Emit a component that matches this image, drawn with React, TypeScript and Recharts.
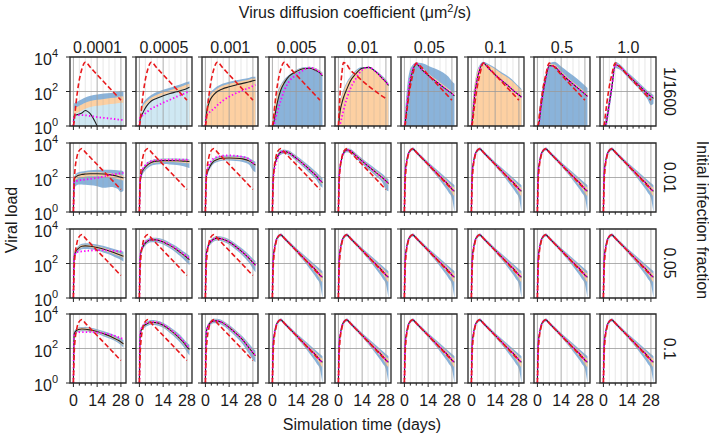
import React from 'react';
import { ComposedChart, Area, Line, XAxis, YAxis, ReferenceLine, ReferenceArea } from 'recharts';

// ---------- axes / labels ----------
const T = [0, 0.5, 1, 2, 3, 5, 7, 10, 14, 18, 22, 26, 28, 29.5];
const X_TICKS = [0, 3.5, 7, 10.5, 14, 17.5, 21, 24.5, 28];
const X_MAJOR = [0, 14, 28];
const Y_TICKS = [0, 2, 4];
const COL_LABELS = ['0.0001', '0.0005', '0.001', '0.005', '0.01', '0.05', '0.1', '0.5', '1.0'];
const ROW_LABELS = ['1/1600', '0.01', '0.05', '0.1'];

// ---------- values are log10(viral load) ----------
const ZERO = [0, 0, 0, 0, 0, 0, 0, 0, 0, 0, 0, 0, 0, 0];

const RED_R1 = [0, 0.3, 0.8, 1.7, 2.4, 3.3, 3.7, 3.4, 2.97, 2.55, 2.13, 1.71, 1.5, null];
const RED_R1C5 = [0, 1.0, 1.9, 3.0, 3.68, 3.55, 3.25, 2.98, 2.62, 2.3, 2.0, 1.72, 1.6, null];
const RED_R1B = [0, 0.1, 0.5, 1.3, 2.0, 3.0, 3.65, 3.42, 2.97, 2.55, 2.13, 1.71, 1.5, null];
const RED_LATE = [0, 1.8, 2.5, 3.15, 3.5, 3.68, 3.47, 3.16, 2.75, 2.34, 1.93, 1.51, 1.3, null];

// row 1 (1/1600)
const R1C1_MEAN = [0, 0.6, 0.62, 0.65, 0.68, 0.75, 0.9, 0.7, 0, null, null, null, null, null];
const R1C1_MAG = [0, 0.6, 0.62, 0.63, 0.63, 0.63, 0.62, 0.58, 0.52, 0.47, 0.43, 0.38, 0.36, 0.35];
const R1C1_BHI = [0, 1.3, 1.35, 1.4, 1.45, 1.55, 1.65, 1.75, 1.83, 1.88, 1.92, 1.98, 2.05, 2.0];
const R1C1_PHI = [0, 1.0, 1.05, 1.1, 1.15, 1.25, 1.35, 1.45, 1.52, 1.57, 1.62, 1.67, 1.72, 1.7];
const R1C1_LIGHT = [0, 0.7, 0.72, 0.75, 0.8, 0.9, 1.0, 1.1, 1.17, 1.22, 1.27, 1.32, 1.35, 1.35];

const R1C2_MEAN = [0, 0.4, 0.55, 0.75, 0.95, 1.25, 1.45, 1.6, 1.75, 1.88, 1.98, 2.1, 2.18, 2.25];
const R1C2_MAG = [0, 0.5, 0.55, 0.62, 0.7, 0.85, 1.0, 1.15, 1.35, 1.52, 1.7, 1.86, 1.95, 2.02];
const R1C2_BHI = [0, 0.7, 1.0, 1.3, 1.45, 1.65, 1.8, 1.95, 2.1, 2.22, 2.35, 2.48, 2.55, 2.6];
const R1C2_PHI = [0, 0.6, 0.85, 1.15, 1.3, 1.5, 1.65, 1.8, 1.95, 2.07, 2.2, 2.33, 2.4, 2.45];
const R1C2_LIGHT = [0, 0.5, 0.7, 0.95, 1.15, 1.35, 1.5, 1.65, 1.8, 1.93, 2.03, 2.15, 2.23, 2.3];

const R1C3_MEAN = [0, 0.6, 0.95, 1.3, 1.55, 1.82, 2.0, 2.15, 2.27, 2.38, 2.47, 2.56, 2.62, 2.65];
const R1C3_MAG = [0, 0.55, 0.65, 0.75, 0.85, 1.0, 1.2, 1.45, 1.7, 1.9, 2.07, 2.22, 2.32, 2.38];
const R1C3_BHI = [0, 1.0, 1.4, 1.75, 1.95, 2.15, 2.3, 2.45, 2.57, 2.65, 2.73, 2.8, 2.85, 2.85];
const R1C3_PHI = [0, 0.9, 1.25, 1.6, 1.82, 2.03, 2.18, 2.33, 2.45, 2.54, 2.62, 2.7, 2.75, 2.75];

const R1C4_MEAN = [0, 0.1, 0.3, 0.9, 1.4, 2.1, 2.5, 2.9, 3.15, 3.32, 3.35, 3.2, 3.08, 2.9];
const R1C4_MAG = [0, 0, 0.1, 0.5, 0.85, 1.5, 2.05, 2.6, 2.95, 3.22, 3.38, 3.25, 3.1, 2.9];
const R1C4_BHI = [0, 0.5, 1.0, 1.6, 1.95, 2.4, 2.7, 2.97, 3.25, 3.4, 3.43, 3.34, 3.22, 3.1];
const R1C4_PLO = [0, 0, 0.25, 0.85, 1.35, 2.05, 2.45, 2.85, 3.1, 3.27, 3.3, 3.17, 3.05, 2.85];
const R1C4_PHI = [0, 0.4, 0.9, 1.5, 1.85, 2.32, 2.63, 2.92, 3.2, 3.36, 3.39, 3.3, 3.18, 3.05];

const R1C5_MEAN = [0, 0.4, 0.85, 1.3, 1.65, 2.15, 2.6, 3.0, 3.35, 3.4, 3.15, 2.75, 2.55, 2.35];
const R1C5_MAG = [0, 0, 0.1, 0.5, 0.9, 1.6, 2.15, 2.7, 3.25, 3.4, 3.15, 2.75, 2.55, 2.35];
const R1C5_BHI = [0, 1.0, 1.45, 1.8, 2.1, 2.55, 2.85, 3.2, 3.42, 3.42, 3.22, 2.9, 2.7, 2.5];
const R1C5_PHI = [0, 0.92, 1.37, 1.72, 2.02, 2.47, 2.77, 3.12, 3.34, 3.34, 3.14, 2.82, 2.62, 2.42];

const R1C6_MEAN = [0, 0.2, 0.65, 1.55, 2.35, 3.25, 3.6, 3.3, 2.94, 2.63, 2.32, 2.02, 1.88, 1.75];
const R1C6_MAG = [0, 0.3, 0.8, 1.75, 2.5, 3.3, 3.62, 3.3, 2.94, 2.63, 2.32, 2.02, 1.88, 1.75];
const R1C6_BHI = [0, 1.0, 1.6, 2.6, 3.15, 3.55, 3.68, 3.65, 3.5, 3.33, 3.15, 2.85, 2.6, 2.45];
const R1C6_PLO = [0, 0.15, 0.6, 1.5, 2.3, 3.2, 3.55, 3.27, 2.92, 2.6, 2.3, 2.0, 1.85, 1.72];
const R1C6_PHI = [0, 0.4, 0.9, 1.85, 2.6, 3.38, 3.66, 3.4, 3.05, 2.75, 2.45, 2.15, 2.0, 1.87];

const R1C7_MEAN = [0, 0.3, 0.8, 1.85, 2.5, 3.3, 3.65, 3.35, 2.97, 2.63, 2.3, 1.95, 1.8, 1.68];
const R1C7_BHI = [0, 1.0, 1.7, 2.5, 3.05, 3.55, 3.72, 3.6, 3.38, 3.1, 2.85, 2.5, 2.3, 2.15];
const R1C7_PHI = [0, 0.92, 1.62, 2.42, 2.97, 3.47, 3.64, 3.52, 3.3, 3.02, 2.77, 2.42, 2.22, 2.07];

const R1C8_MEAN = [0, 0, 0.2, 1.0, 1.7, 2.8, 3.5, 3.45, 3.05, 2.68, 2.35, 2.02, 1.85, 1.72];
const R1C8_BHI = [0, 0, 0.8, 1.6, 2.2, 3.0, 3.6, 3.72, 3.45, 3.15, 2.85, 2.52, 2.35, 2.2];
const R1C8_PLO = [0, 0, 0.15, 0.95, 1.65, 2.75, 3.45, 3.4, 3.0, 2.63, 2.3, 1.97, 1.8, 1.67];
const R1C8_PHI = [0, 0, 0.35, 1.15, 1.85, 2.92, 3.6, 3.57, 3.17, 2.8, 2.47, 2.14, 1.97, 1.84];

const R1C9_MEAN = [0, 0, 0, 0.35, 1.0, 2.25, 3.55, 3.4, 3.0, 2.62, 2.25, 1.87, 1.72, 1.6];
const R1C9_BLO = [0, 0, 0, 0, 0.6, 1.9, 3.35, 3.25, 2.85, 2.45, 2.05, 1.55, 1.2, 1.3];
const R1C9_BHI = [0, 0, 0.3, 0.75, 1.4, 2.6, 3.72, 3.55, 3.15, 2.8, 2.42, 2.05, 1.9, 1.8];
const R1C9_PLO = [0, 0, 0, 0.25, 0.9, 2.15, 3.48, 3.33, 2.93, 2.55, 2.18, 1.8, 1.65, 1.53];
const R1C9_PHI = [0, 0, 0.1, 0.5, 1.15, 2.38, 3.62, 3.47, 3.07, 2.69, 2.32, 1.94, 1.79, 1.67];

// row 2 (0.01)
const R2C1_MEAN = [0, 1.9, 2.0, 2.08, 2.13, 2.18, 2.2, 2.22, 2.22, 2.2, 2.15, 2.07, 2.02, 1.97];
const R2C1_MAG = [0, 1.75, 1.78, 1.8, 1.83, 1.86, 1.88, 1.92, 1.98, 2.06, 2.15, 2.22, 2.25, 2.27];
const R2C1_BLO = [0, 1.2, 1.45, 1.55, 1.6, 1.6, 1.58, 1.55, 1.5, 1.4, 1.45, 1.35, 1.15, 1.25];
const R2C1_BHI = [0, 2.0, 2.15, 2.25, 2.3, 2.35, 2.38, 2.42, 2.45, 2.45, 2.45, 2.42, 2.4, 2.35];
const R2C1_PLO = [0, 1.75, 1.85, 1.92, 1.97, 2.02, 2.05, 2.07, 2.07, 2.05, 2.0, 1.92, 1.87, 1.82];
const R2C1_PHI = [0, 1.95, 2.07, 2.15, 2.2, 2.25, 2.28, 2.3, 2.3, 2.28, 2.25, 2.18, 2.14, 2.1];

const R2C2_MEAN = [0, 1.8, 2.1, 2.4, 2.55, 2.75, 2.87, 2.95, 2.98, 2.98, 2.97, 2.95, 2.94, 2.93];
const R2C2_MAG = [0, 1.8, 2.15, 2.5, 2.65, 2.85, 2.95, 3.0, 3.02, 3.03, 3.03, 3.03, 3.03, 3.03];
const R2C2_BLO = [0, 1.6, 1.9, 2.2, 2.35, 2.55, 2.68, 2.75, 2.78, 2.76, 2.72, 2.65, 2.6, 2.55];
const R2C2_BHI = [0, 2.0, 2.3, 2.55, 2.7, 2.9, 3.0, 3.07, 3.1, 3.1, 3.1, 3.08, 3.07, 3.05];
const R2C2_PLO = [0, 1.72, 2.02, 2.32, 2.47, 2.67, 2.79, 2.87, 2.9, 2.9, 2.88, 2.85, 2.83, 2.82];
const R2C2_PHI = [0, 1.88, 2.18, 2.48, 2.63, 2.83, 2.95, 3.03, 3.06, 3.06, 3.05, 3.03, 3.02, 3.01];

const R2C3_MEAN = [0, 2.0, 2.25, 2.5, 2.7, 2.95, 3.05, 3.12, 3.13, 3.12, 3.08, 2.95, 2.82, 2.72];
const R2C3_MAG = [0, 2.1, 2.4, 2.7, 2.9, 3.12, 3.2, 3.26, 3.28, 3.26, 3.2, 3.05, 2.85, 2.7];
const R2C3_BLO = [0, 1.85, 2.1, 2.35, 2.55, 2.8, 2.9, 2.97, 2.98, 2.95, 2.9, 2.72, 2.4, 2.3];
const R2C3_BHI = [0, 2.15, 2.4, 2.65, 2.85, 3.1, 3.2, 3.27, 3.28, 3.27, 3.24, 3.12, 3.0, 2.92];
const R2C3_PLO = [0, 1.93, 2.18, 2.43, 2.63, 2.88, 2.98, 3.05, 3.06, 3.05, 3.01, 2.88, 2.75, 2.65];
const R2C3_PHI = [0, 2.07, 2.32, 2.57, 2.77, 3.02, 3.12, 3.19, 3.2, 3.19, 3.15, 3.02, 2.89, 2.79];

const R2C4_MEAN = [0, 2.0, 2.5, 2.95, 3.2, 3.47, 3.5, 3.42, 3.12, 2.8, 2.45, 2.08, 1.85, 1.7];
const R2C4_MAG = [0, 1.8, 2.3, 2.8, 3.1, 3.45, 3.52, 3.42, 3.12, 2.8, 2.45, 2.08, 1.85, 1.7];
const R2C4_BLO = [0, 1.8, 2.3, 2.78, 3.05, 3.32, 3.37, 3.28, 2.97, 2.62, 2.25, 1.85, 1.55, 1.4];
const R2C4_BHI = [0, 2.2, 2.68, 3.1, 3.33, 3.6, 3.63, 3.55, 3.27, 2.97, 2.65, 2.3, 2.1, 1.98];
const R2C4_PLO = [0, 1.93, 2.43, 2.88, 3.13, 3.4, 3.43, 3.35, 3.05, 2.72, 2.37, 1.99, 1.76, 1.6];
const R2C4_PHI = [0, 2.07, 2.57, 3.02, 3.27, 3.54, 3.57, 3.49, 3.19, 2.88, 2.53, 2.17, 1.94, 1.8];

const R2C5_MEAN = [0, 2.1, 2.6, 3.1, 3.4, 3.6, 3.55, 3.3, 2.95, 2.62, 2.3, 1.98, 1.8, 1.65];
const R2C5_BLO = [0, 1.9, 2.42, 2.95, 3.27, 3.47, 3.42, 3.15, 2.78, 2.43, 2.08, 1.7, 1.3, 1.2];
const R2C5_BHI = [0, 2.3, 2.77, 3.23, 3.52, 3.7, 3.67, 3.44, 3.1, 2.79, 2.5, 2.2, 2.02, 1.9];
const R2C5_PLO = [0, 2.03, 2.53, 3.03, 3.33, 3.53, 3.48, 3.23, 2.88, 2.54, 2.21, 1.88, 1.7, 1.55];
const R2C5_PHI = [0, 2.17, 2.67, 3.17, 3.47, 3.67, 3.62, 3.37, 3.02, 2.7, 2.39, 2.08, 1.9, 1.75];

// row 3 (0.05)
const R3C1_MEAN = [0, 2.4, 2.6, 2.78, 2.88, 3.0, 3.02, 3.0, 2.93, 2.83, 2.7, 2.55, 2.48, 2.42];
const R3C1_MAG = [0, 2.4, 2.55, 2.65, 2.68, 2.7, 2.72, 2.75, 2.77, 2.77, 2.75, 2.71, 2.7, 2.68];
const R3C1_BLO = [0, 2.2, 2.42, 2.6, 2.7, 2.82, 2.84, 2.82, 2.75, 2.62, 2.5, 2.3, 2.2, 2.1];
const R3C1_BHI = [0, 2.55, 2.75, 2.92, 3.02, 3.14, 3.17, 3.16, 3.1, 3.02, 2.9, 2.78, 2.72, 2.68];
const R3C1_PLO = [0, 2.33, 2.53, 2.71, 2.81, 2.93, 2.95, 2.93, 2.86, 2.76, 2.62, 2.46, 2.39, 2.33];
const R3C1_PHI = [0, 2.47, 2.67, 2.85, 2.95, 3.07, 3.09, 3.07, 3.0, 2.9, 2.78, 2.64, 2.57, 2.51];

const R3C2_MEAN = [0, 2.4, 2.7, 2.95, 3.12, 3.3, 3.37, 3.37, 3.25, 3.05, 2.8, 2.5, 2.35, 2.22];
const R3C2_MAG = [0, 2.45, 2.75, 3.0, 3.17, 3.33, 3.38, 3.37, 3.26, 3.07, 2.83, 2.55, 2.4, 2.28];
const R3C2_BLO = [0, 2.25, 2.55, 2.8, 2.97, 3.16, 3.23, 3.22, 3.1, 2.88, 2.6, 2.25, 2.05, 1.9];
const R3C2_BHI = [0, 2.55, 2.85, 3.1, 3.27, 3.44, 3.5, 3.5, 3.4, 3.2, 2.98, 2.7, 2.57, 2.45];
const R3C2_PLO = [0, 2.33, 2.63, 2.88, 3.05, 3.23, 3.3, 3.3, 3.18, 2.98, 2.72, 2.42, 2.27, 2.14];
const R3C2_PHI = [0, 2.47, 2.77, 3.02, 3.19, 3.37, 3.44, 3.44, 3.32, 3.12, 2.88, 2.58, 2.43, 2.3];

const R3C3_MEAN = [0, 2.5, 2.8, 3.1, 3.25, 3.42, 3.47, 3.42, 3.25, 2.97, 2.65, 2.27, 2.05, 1.9];
const R3C3_BLO = [0, 2.35, 2.65, 2.95, 3.1, 3.28, 3.33, 3.28, 3.1, 2.8, 2.45, 2.0, 1.7, 1.5];
const R3C3_BHI = [0, 2.65, 2.95, 3.22, 3.37, 3.54, 3.59, 3.55, 3.4, 3.13, 2.84, 2.48, 2.28, 2.15];
const R3C3_PLO = [0, 2.43, 2.73, 3.03, 3.18, 3.35, 3.4, 3.35, 3.18, 2.9, 2.57, 2.18, 1.96, 1.8];
const R3C3_PHI = [0, 2.57, 2.87, 3.17, 3.32, 3.49, 3.54, 3.49, 3.32, 3.04, 2.73, 2.36, 2.14, 2.0];

// row 4 (0.1)
const R4C1_MEAN = [0, 2.85, 2.95, 3.05, 3.1, 3.13, 3.12, 3.07, 2.98, 2.85, 2.7, 2.5, 2.38, 2.27];
const R4C1_MAG = [0, 2.85, 2.9, 2.93, 2.95, 2.95, 2.95, 2.95, 2.93, 2.88, 2.8, 2.68, 2.6, 2.55];
const R4C1_BLO = [0, 2.7, 2.82, 2.92, 2.97, 3.0, 3.0, 2.95, 2.85, 2.7, 2.55, 2.35, 2.2, 2.05];
const R4C1_BHI = [0, 3.0, 3.08, 3.17, 3.22, 3.25, 3.24, 3.2, 3.12, 3.0, 2.87, 2.68, 2.58, 2.5];
const R4C1_PLO = [0, 2.78, 2.88, 2.98, 3.03, 3.06, 3.05, 3.0, 2.91, 2.78, 2.63, 2.43, 2.31, 2.2];
const R4C1_PHI = [0, 2.92, 3.02, 3.12, 3.17, 3.2, 3.19, 3.14, 3.05, 2.92, 2.77, 2.57, 2.45, 2.34];

const R4C2_MEAN = [0, 2.8, 3.05, 3.25, 3.35, 3.47, 3.52, 3.5, 3.35, 3.08, 2.75, 2.35, 2.1, 1.95];
const R4C2_MAG = [0, 2.85, 3.1, 3.3, 3.4, 3.5, 3.54, 3.52, 3.38, 3.12, 2.8, 2.42, 2.18, 2.02];
const R4C2_BLO = [0, 2.65, 2.9, 3.1, 3.2, 3.32, 3.38, 3.35, 3.2, 2.9, 2.55, 2.1, 1.8, 1.6];
const R4C2_BHI = [0, 2.95, 3.2, 3.38, 3.48, 3.6, 3.65, 3.63, 3.5, 3.25, 2.95, 2.57, 2.35, 2.22];
const R4C2_PLO = [0, 2.73, 2.98, 3.18, 3.28, 3.4, 3.45, 3.43, 3.28, 3.0, 2.67, 2.26, 2.01, 1.86];
const R4C2_PHI = [0, 2.87, 3.12, 3.32, 3.42, 3.54, 3.59, 3.57, 3.42, 3.16, 2.83, 2.44, 2.19, 2.04];

const R4C3_MEAN = [0, 2.9, 3.15, 3.38, 3.5, 3.6, 3.6, 3.5, 3.22, 2.88, 2.5, 2.0, 1.75, 1.58];
const R4C3_BLO = [0, 2.75, 3.0, 3.23, 3.36, 3.46, 3.46, 3.35, 3.05, 2.68, 2.25, 1.65, 1.35, 1.2];
const R4C3_BHI = [0, 3.05, 3.28, 3.5, 3.62, 3.72, 3.72, 3.63, 3.37, 3.05, 2.7, 2.25, 2.02, 1.88];
const R4C3_PLO = [0, 2.83, 3.08, 3.31, 3.43, 3.53, 3.53, 3.43, 3.14, 2.79, 2.41, 1.9, 1.65, 1.48];
const R4C3_PHI = [0, 2.97, 3.22, 3.45, 3.57, 3.67, 3.67, 3.57, 3.3, 2.97, 2.59, 2.1, 1.85, 1.68];

// converged panels (fast diffusion, rows 2-4)
const CONV_MEAN = [0, 2.3, 2.75, 3.25, 3.52, 3.66, 3.47, 3.17, 2.77, 2.37, 1.97, 1.57, 1.33, 1.2];
const CONV_BLO = [0, 2.0, 2.55, 3.1, 3.4, 3.57, 3.38, 3.07, 2.65, 2.2, 1.7, 1.15, 0.8, 0];
const CONV_BHI = [0, 2.5, 2.9, 3.35, 3.6, 3.74, 3.56, 3.27, 2.9, 2.55, 2.2, 1.85, 1.68, 1.55];
const CONV_PLO = [0, 2.2, 2.68, 3.2, 3.47, 3.61, 3.42, 3.11, 2.7, 2.28, 1.85, 1.4, 1.1, 0.9];
const CONV_PHI = [0, 2.4, 2.82, 3.3, 3.56, 3.7, 3.52, 3.22, 2.84, 2.46, 2.08, 1.72, 1.52, 1.4];

// ---------- panel table ----------
type Arr = (number | null)[];
type Spec = { red: Arr; mean: Arr; mag: Arr; blo: Arr; bhi: Arr; plo: Arr; phi: Arr; light?: Arr };

const conv: Spec = { red: RED_LATE, mean: CONV_MEAN, mag: CONV_MEAN, blo: CONV_BLO, bhi: CONV_BHI, plo: CONV_PLO, phi: CONV_PHI };

const PANELS: Spec[][] = [
  [
    { red: RED_R1, mean: R1C1_MEAN, mag: R1C1_MAG, blo: ZERO, bhi: R1C1_BHI, plo: ZERO, phi: R1C1_PHI, light: R1C1_LIGHT },
    { red: RED_R1, mean: R1C2_MEAN, mag: R1C2_MAG, blo: ZERO, bhi: R1C2_BHI, plo: ZERO, phi: R1C2_PHI, light: R1C2_LIGHT },
    { red: RED_R1, mean: R1C3_MEAN, mag: R1C3_MAG, blo: ZERO, bhi: R1C3_BHI, plo: ZERO, phi: R1C3_PHI },
    { red: RED_R1, mean: R1C4_MEAN, mag: R1C4_MAG, blo: ZERO, bhi: R1C4_BHI, plo: R1C4_PLO, phi: R1C4_PHI },
    { red: RED_R1C5, mean: R1C5_MEAN, mag: R1C5_MAG, blo: ZERO, bhi: R1C5_BHI, plo: ZERO, phi: R1C5_PHI },
    { red: RED_R1B, mean: R1C6_MEAN, mag: R1C6_MAG, blo: ZERO, bhi: R1C6_BHI, plo: R1C6_PLO, phi: R1C6_PHI },
    { red: RED_R1B, mean: R1C7_MEAN, mag: R1C7_MEAN, blo: ZERO, bhi: R1C7_BHI, plo: ZERO, phi: R1C7_PHI },
    { red: RED_R1B, mean: R1C8_MEAN, mag: R1C8_MEAN, blo: ZERO, bhi: R1C8_BHI, plo: R1C8_PLO, phi: R1C8_PHI },
    { red: RED_R1B, mean: R1C9_MEAN, mag: R1C9_MEAN, blo: R1C9_BLO, bhi: R1C9_BHI, plo: R1C9_PLO, phi: R1C9_PHI },
  ],
  [
    { red: RED_LATE, mean: R2C1_MEAN, mag: R2C1_MAG, blo: R2C1_BLO, bhi: R2C1_BHI, plo: R2C1_PLO, phi: R2C1_PHI },
    { red: RED_LATE, mean: R2C2_MEAN, mag: R2C2_MAG, blo: R2C2_BLO, bhi: R2C2_BHI, plo: R2C2_PLO, phi: R2C2_PHI },
    { red: RED_LATE, mean: R2C3_MEAN, mag: R2C3_MAG, blo: R2C3_BLO, bhi: R2C3_BHI, plo: R2C3_PLO, phi: R2C3_PHI },
    { red: RED_LATE, mean: R2C4_MEAN, mag: R2C4_MAG, blo: R2C4_BLO, bhi: R2C4_BHI, plo: R2C4_PLO, phi: R2C4_PHI },
    { red: RED_LATE, mean: R2C5_MEAN, mag: R2C5_MEAN, blo: R2C5_BLO, bhi: R2C5_BHI, plo: R2C5_PLO, phi: R2C5_PHI },
    conv, conv, conv, conv,
  ],
  [
    { red: RED_LATE, mean: R3C1_MEAN, mag: R3C1_MAG, blo: R3C1_BLO, bhi: R3C1_BHI, plo: R3C1_PLO, phi: R3C1_PHI },
    { red: RED_LATE, mean: R3C2_MEAN, mag: R3C2_MAG, blo: R3C2_BLO, bhi: R3C2_BHI, plo: R3C2_PLO, phi: R3C2_PHI },
    { red: RED_LATE, mean: R3C3_MEAN, mag: R3C3_MEAN, blo: R3C3_BLO, bhi: R3C3_BHI, plo: R3C3_PLO, phi: R3C3_PHI },
    conv, conv, conv, conv, conv, conv,
  ],
  [
    { red: RED_LATE, mean: R4C1_MEAN, mag: R4C1_MAG, blo: R4C1_BLO, bhi: R4C1_BHI, plo: R4C1_PLO, phi: R4C1_PHI },
    { red: RED_LATE, mean: R4C2_MEAN, mag: R4C2_MAG, blo: R4C2_BLO, bhi: R4C2_BHI, plo: R4C2_PLO, phi: R4C2_PHI },
    { red: RED_LATE, mean: R4C3_MEAN, mag: R4C3_MEAN, blo: R4C3_BLO, bhi: R4C3_BHI, plo: R4C3_PLO, phi: R4C3_PHI },
    conv, conv, conv, conv, conv, conv,
  ],
];

// ---------- layout / style ----------
const FONT = "'Liberation Sans', Arial, Helvetica, sans-serif";
const TXT = '#1a1a1a';
const PLOT_W = 56;
const PLOT_H = 69;
const LEFT0 = 69.5;
const COL_STEP = 66.35;
const TOP0 = 57;
const ROW_STEP = 85.8;
const YAX_W = 40;
const XAX_H = 26;
const MT = 12;
const MR = 14;

const C_BLUE = '#8ab3da';
const C_PEACH = '#fdd0a2';
const C_LIGHT = '#cfe8f3';
const C_RED = '#e8191c';
const C_MAG = '#ff00ff';
const C_BLACK = '#1f1f1f';

function buildRows(s: Spec) {
  return T.map((t, i) => ({
    t,
    blue: [s.blo[i] ?? 0, s.bhi[i] ?? 0],
    peach: [s.plo[i] ?? 0, s.phi[i] ?? 0],
    light: s.light ? [0, s.light[i] ?? 0] : null,
    mean: s.mean[i],
    mag: s.mag[i],
    red: s.red[i],
  }));
}

function XTick(props: any) {
  const { x, y, payload, showLabel } = props;
  const v = payload?.value;
  const major = X_MAJOR.includes(v);
  return (
    <g>
      <line x1={x} x2={x} y1={y} y2={y + (major ? 4 : 2.6)} stroke="#262626" strokeWidth={1} />
      {showLabel && major ? (
        <text x={x} y={y + 22.5} textAnchor="middle" fontSize={16} fontFamily={FONT} fill={TXT}>
          {String(v)}
        </text>
      ) : null}
    </g>
  );
}

function YTick(props: any) {
  const { x, y, payload, showLabel } = props;
  const v = payload?.value;
  return (
    <g>
      <line x1={x - 4} x2={x} y1={y} y2={y} stroke="#262626" strokeWidth={1} />
      {showLabel ? (
        <text x={x - 12} y={y + 8} textAnchor="end" fontSize={16} fontFamily={FONT} fill={TXT}>
          10
          <tspan dy={-8.5} fontSize={11}>
            {String(v)}
          </tspan>
        </text>
      ) : null}
    </g>
  );
}

function Panel({ r, c }: { r: number; c: number }) {
  const spec = PANELS[r][c];
  const data = buildRows(spec);
  const left = LEFT0 + c * COL_STEP - YAX_W;
  const top = TOP0 + r * ROW_STEP - MT;
  const minor = X_TICKS.filter((v) => !X_MAJOR.includes(v));
  return (
    <div style={{ position: 'absolute', left, top }}>
      <ComposedChart
        width={YAX_W + PLOT_W + MR}
        height={MT + PLOT_H + XAX_H}
        data={data}
        margin={{ top: MT, right: MR, bottom: 0, left: 0 }}
      >
        <XAxis
          type="number"
          dataKey="t"
          domain={[-2, 31]}
          allowDataOverflow
          ticks={X_TICKS}
          interval={0}
          height={XAX_H}
          tickSize={0}
          tickMargin={0}
          axisLine={false}
          tickLine={false}
          tick={(p: any) => <XTick {...p} showLabel={r === 3} />}
        />
        <YAxis
          type="number"
          domain={[0, 4]}
          allowDataOverflow
          ticks={Y_TICKS}
          interval={0}
          width={YAX_W}
          tickSize={0}
          tickMargin={0}
          axisLine={false}
          tickLine={false}
          tick={(p: any) => <YTick {...p} showLabel={c === 0} />}
        />
        <Area type="monotone" dataKey="blue" stroke="none" fill={C_BLUE} fillOpacity={1} isAnimationActive={false} activeDot={false} />
        <Area type="monotone" dataKey="peach" stroke="none" fill={C_PEACH} fillOpacity={1} isAnimationActive={false} activeDot={false} />
        {spec.light ? (
          <Area type="monotone" dataKey="light" stroke="none" fill={C_LIGHT} fillOpacity={1} isAnimationActive={false} activeDot={false} />
        ) : null}
        {minor.map((v) => (
          <ReferenceLine key={'m' + v} x={v} stroke="#9a9a9a" strokeOpacity={0.3} strokeWidth={0.8} zIndex={150} />
        ))}
        {X_MAJOR.map((v) => (
          <ReferenceLine key={'M' + v} x={v} stroke="#9a9a9a" strokeOpacity={0.8} strokeWidth={1} zIndex={150} />
        ))}
        <ReferenceLine y={2} stroke="#9a9a9a" strokeOpacity={0.8} strokeWidth={1} zIndex={150} />
        <Line type="monotone" dataKey="mean" stroke={C_BLACK} strokeWidth={1.1} dot={false} activeDot={false} isAnimationActive={false} />
        <Line type="monotone" dataKey="mag" stroke={C_MAG} strokeWidth={1.8} strokeDasharray="1.4 2.2" dot={false} activeDot={false} isAnimationActive={false} />
        <Line type="monotone" dataKey="red" stroke={C_RED} strokeWidth={1.6} strokeDasharray="5 2.6" dot={false} activeDot={false} isAnimationActive={false} />
        <ReferenceArea x1={-2} x2={31} y1={0} y2={4} fill="none" fillOpacity={0} stroke="#262626" strokeWidth={1.3} zIndex={450} />
      </ComposedChart>
    </div>
  );
}

export default function App() {
  const rows = [0, 1, 2, 3];
  const cols = [0, 1, 2, 3, 4, 5, 6, 7, 8];
  return (
    <div style={{ position: 'fixed', left: 0, top: 0, width: 709, height: 443, background: '#fff', fontFamily: FONT, overflow: 'hidden' }}>
      {rows.map((r) => cols.map((c) => <Panel key={r + '-' + c} r={r} c={c} />))}
      <svg width={709} height={443} style={{ position: 'absolute', left: 0, top: 0, pointerEvents: 'none' }}>
        <text x={355} y={18} textAnchor="middle" fontSize={16} fontFamily={FONT} fill={TXT}>
          Virus diffusion coefficient (μm
          <tspan dy={-6} fontSize={11}>2</tspan>
          <tspan dy={6}>/s)</tspan>
        </text>
        {COL_LABELS.map((lab, c) => (
          <text key={lab} x={LEFT0 + c * COL_STEP + PLOT_W / 2} y={52.5} textAnchor="middle" fontSize={16} fontFamily={FONT} fill={TXT}>
            {lab}
          </text>
        ))}
        {ROW_LABELS.map((lab, r) => {
          const cy = TOP0 + r * ROW_STEP + PLOT_H / 2;
          return (
            <text key={lab} x={669} y={cy} transform={`rotate(90 669 ${cy})`} textAnchor="middle" dominantBaseline="central" fontSize={16} fontFamily={FONT} fill={TXT}>
              {lab}
            </text>
          );
        })}
        <text x={702} y={220} transform="rotate(90 702 220)" textAnchor="middle" dominantBaseline="central" fontSize={16} fontFamily={FONT} fill={TXT}>
          Initial infection fraction
        </text>
        <text x={11} y={220} transform="rotate(-90 11 220)" textAnchor="middle" dominantBaseline="central" fontSize={16} fontFamily={FONT} fill={TXT}>
          Viral load
        </text>
        <text x={362} y={430} textAnchor="middle" fontSize={16} fontFamily={FONT} fill={TXT}>
          Simulation time (days)
        </text>
      </svg>
    </div>
  );
}
